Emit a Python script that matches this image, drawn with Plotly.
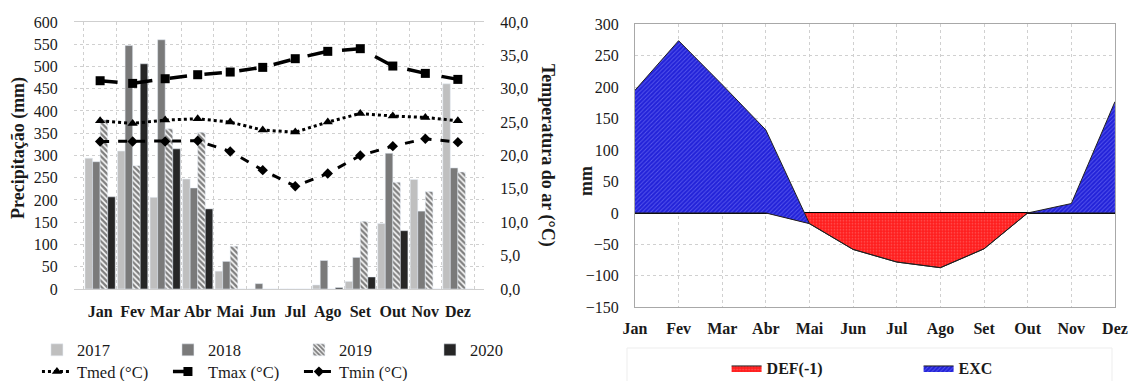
import plotly.graph_objects as go

months = ["Jan", "Fev", "Mar", "Abr", "Mai", "Jun", "Jul", "Ago", "Set", "Out", "Nov", "Dez"]

p2017 = [294, 310, 206, 247, 40, 0, 0, 9, 17, 147, 246, 461]
p2018 = [286, 547, 560, 227, 62, 12, 0, 64, 71, 305, 175, 272]
p2019 = [380, 277, 360, 352, 96, 0, 0, 0, 152, 240, 219, 263]
p2020 = [207, 506, 315, 180, 0, 0, 0, 3, 27, 131, 0, 0]

tmed = [25.2, 24.8, 25.3, 25.5, 25.0, 23.8, 23.5, 25.0, 26.3, 25.9, 25.7, 25.2]
tmax = [31.2, 30.8, 31.5, 32.1, 32.5, 33.2, 34.5, 35.6, 36.0, 33.4, 32.3, 31.4]
tmin = [22.1, 22.1, 22.1, 22.2, 20.6, 17.8, 15.4, 17.3, 20.0, 21.4, 22.5, 22.0]

deficit = [0, 0, 0, 0, -17, -58, -78, -87, -57, 0, 0, 0]
excess = [195, 274, 204, 132, 0, 0, 0, 0, 0, 0, 15, 177]

SERIF = "Liberation Serif"
TXT = "#1a1a1a"
GRID = "#d0d0d0"

fig = go.Figure()

# ---- left chart: precipitation bars
fig.add_trace(go.Bar(x=months, y=p2017, name="2017", marker=dict(color="#bfbfbf"),
                     xaxis="x", yaxis="y", legend="legend"))
fig.add_trace(go.Bar(x=months, y=p2018, name="2018", marker=dict(color="#7a7a7a"),
                     xaxis="x", yaxis="y", legend="legend"))
fig.add_trace(go.Bar(x=months, y=p2019, name="2019",
                     marker=dict(color="white",
                                 pattern=dict(shape="\\", fgcolor="#000000", bgcolor="white",
                                              size=4, solidity=0.62)),
                     xaxis="x", yaxis="y", legend="legend"))
fig.add_trace(go.Bar(x=months, y=p2020, name="2020", marker=dict(color="#262626"),
                     xaxis="x", yaxis="y", legend="legend"))

# ---- temperature lines
fig.add_trace(go.Scatter(x=months, y=tmed, name="Tmed (°C)", mode="lines+markers",
                         line=dict(color="black", width=3, dash="dot"),
                         marker=dict(symbol="triangle-up", size=9, color="black"),
                         xaxis="x", yaxis="y2", legend="legend2"))
fig.add_trace(go.Scatter(x=months, y=tmax, name="Tmax (°C)", mode="lines+markers",
                         line=dict(color="black", width=3.5, dash="longdash"),
                         marker=dict(symbol="square", size=9, color="black"),
                         xaxis="x", yaxis="y2", legend="legend2"))
fig.add_trace(go.Scatter(x=months, y=tmin, name="Tmin (°C)", mode="lines+markers",
                         line=dict(color="black", width=3, dash="dash"),
                         marker=dict(symbol="diamond", size=8, color="black"),
                         xaxis="x", yaxis="y2", legend="legend2"))

# ---- right chart: water balance areas (stacked like the original)
fig.add_trace(go.Scatter(x=list(range(12)), y=deficit, name="DEF(-1)", mode="lines",
                         stackgroup="bal", line=dict(color="#202020", width=1),
                         fillcolor="#ff1e1e",
                         fillpattern=dict(shape=".", fgcolor="#ff9090", bgcolor="#ff1e1e",
                                          size=3, solidity=0.25),
                         xaxis="x2", yaxis="y3", legend="legend3"))
fig.add_trace(go.Scatter(x=list(range(12)), y=excess, name="EXC", mode="lines",
                         stackgroup="bal", line=dict(color="#202020", width=1),
                         fillcolor="#2b2be0",
                         fillpattern=dict(shape="/", fgcolor="#8d8dff", bgcolor="#2222d8",
                                          size=3, solidity=0.3),
                         xaxis="x2", yaxis="y3", legend="legend3"))

tickfont = dict(family=SERIF, size=16, color=TXT)
boldtick = dict(family=SERIF, size=16, color=TXT, weight="bold")
CLEAR = "rgba(0,0,0,0)"

fig.update_layout(
    width=1130, height=381,
    margin=dict(l=0, r=0, t=0, b=0, autoexpand=False),
    paper_bgcolor="white", plot_bgcolor="white",
    separators=",.",
    barmode="group", bargap=0.07, bargroupgap=0.0,
    font=dict(family=SERIF, color=TXT),
    xaxis=dict(domain=[0.0655, 0.4283], type="category", tickson="boundaries",
               showgrid=True, gridcolor=GRID, griddash="dot", gridwidth=1, tickangle=0,
               ticks="", ticklabelstandoff=8,
               tickfont=boldtick, showline=True, linecolor="#cfcfcf", mirror=True,
               anchor="y", automargin=False),
    yaxis=dict(domain=[0.2415, 0.9423], range=[0, 600], dtick=50,
               showgrid=True, gridcolor=GRID, griddash="dot",
               ticks="outside", ticklen=12, tickcolor=CLEAR,
               tickfont=tickfont, showline=False, zeroline=False, anchor="x",
               automargin=False),
    yaxis2=dict(overlaying="y", side="right", range=[0, 40], dtick=5, tickformat=".1f",
                showgrid=False, zeroline=False, ticks="outside", ticklen=12,
                tickcolor=CLEAR, tickfont=tickfont, anchor="x", automargin=False),
    xaxis2=dict(domain=[0.5619, 0.9867], range=[0, 11], tickmode="array",
                tickvals=list(range(12)), ticktext=months, tickfont=boldtick, tickangle=0,
                showgrid=True, gridcolor=GRID, griddash="dot",
                showline=True, linecolor="#a8a8a8", mirror=True,
                ticks="outside", ticklen=6, tickcolor=CLEAR, anchor="y3",
                zeroline=False, automargin=False),
    yaxis3=dict(domain=[0.1934, 0.9362], range=[-150, 300], dtick=50,
                showgrid=True, gridcolor=GRID, griddash="dot",
                zeroline=True, zerolinecolor="black", zerolinewidth=2,
                showline=True, linecolor="#a8a8a8", mirror=True,
                ticks="outside", ticklen=12, tickcolor=CLEAR,
                tickfont=tickfont, anchor="x2", automargin=False),
    legend=dict(orientation="h", x=0.0327, y=0.081, xanchor="left", yanchor="middle",
                entrywidth=86, font=dict(family=SERIF, size=16.5, color=TXT),
                bgcolor=CLEAR, traceorder="normal"),
    legend2=dict(orientation="h", x=0.0327, y=0.024, xanchor="left", yanchor="middle",
                 entrywidth=86, font=dict(family=SERIF, size=16.5, color=TXT),
                 bgcolor=CLEAR, traceorder="normal"),
    legend3=dict(orientation="h", x=0.643, y=0.034, xanchor="left", yanchor="middle",
                 entrywidth=147, font=dict(family=SERIF, size=16, color=TXT, weight="bold"),
                 bgcolor=CLEAR, traceorder="normal"),
    annotations=[
        dict(text="<b>Precipitação (mm)</b>", x=18 / 1130, y=1 - 148 / 381, xref="paper",
             yref="paper", showarrow=False, textangle=-90, xanchor="center",
             yanchor="middle", font=dict(family=SERIF, size=18, color=TXT)),
        dict(text="<b>Temperatura do ar (°C)</b>", x=548 / 1130, y=1 - 155 / 381,
             xref="paper", yref="paper", showarrow=False, textangle=90, xanchor="center",
             yanchor="middle", font=dict(family=SERIF, size=18, color=TXT)),
        dict(text="<b>mm</b>", x=586 / 1130, y=1 - 181 / 381, xref="paper", yref="paper",
             showarrow=False, textangle=-90, xanchor="center", yanchor="middle",
             font=dict(family=SERIF, size=18, color=TXT)),
    ],
    shapes=[
        dict(type="rect", xref="paper", yref="paper", x0=627 / 1130, x1=1112 / 1130,
             y0=-0.01, y1=1 - 348 / 381, line=dict(color="#ededed", width=1)),
    ],
)

fig.write_html("out.html")
